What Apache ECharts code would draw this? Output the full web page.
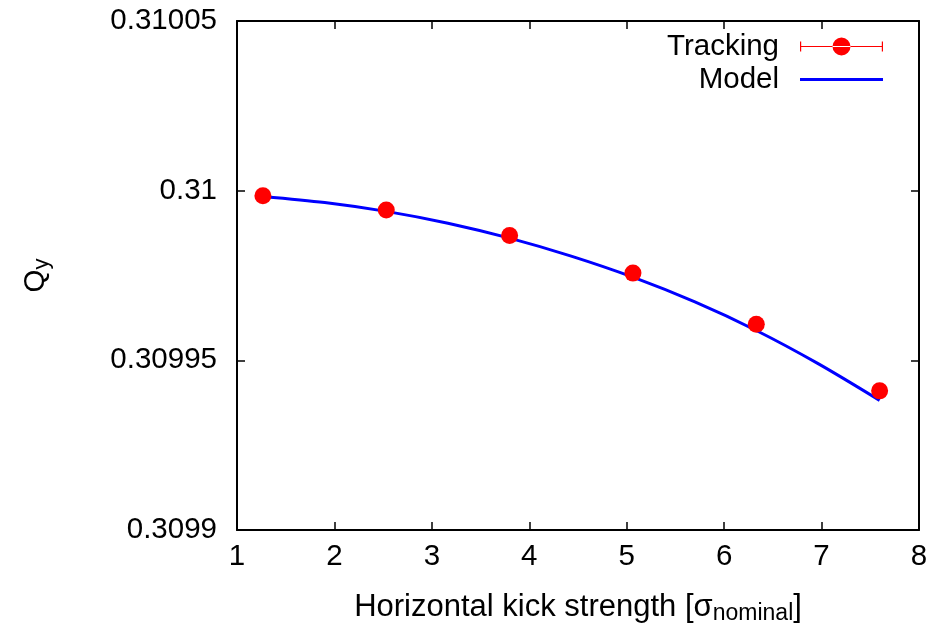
<!DOCTYPE html>
<html>
<head>
<meta charset="utf-8">
<script src="https://cdn.jsdelivr.net/npm/echarts@6/dist/echarts.min.js"></script>
<style>
  html, body { margin: 0; padding: 0; background: #fff; }
  #chart { width: 944px; height: 624px; }
</style>
</head>
<body>
<div id="chart"></div>
<script>
// Tune-shift data: tracking results and the analytic model
const kickStrength = [1.266, 2.532, 3.798, 5.064, 6.330, 7.596];
const trackingQy   = [0.3099985, 0.3099943, 0.3099868, 0.3099757, 0.3099606, 0.3099410];

const modelKick = [1.266, 1.900, 2.532, 3.165, 3.798, 4.430, 5.064, 5.700, 6.330, 6.960, 7.596];
const modelQy   = [0.3099983, 0.3099965, 0.3099939, 0.3099904, 0.3099860, 0.3099807,
                   0.3099745, 0.3099672, 0.3099588, 0.3099491, 0.3099382];

const xTicks = [1, 2, 3, 4, 5, 6, 7, 8];
const yTicks = [0.3099, 0.30995, 0.31, 0.31005];
const yTickLabels = ['0.3099', '0.30995', '0.31', '0.31005'];

const FONT = '"Liberation Sans", Arial, Helvetica, sans-serif';
const tickFont = { fontFamily: FONT, fontSize: 29.5, color: '#000' };

const chart = echarts.init(document.getElementById('chart'), null, { renderer: 'canvas' });

const frameLine = { show: true, onZero: false, lineStyle: { color: '#000', width: 2 } };
const inTick = { show: true, inside: true, length: 8, lineStyle: { color: '#000', width: 1.5 } };

// legend glyphs; tiny corner stubs keep the 83x20 box
const trackingIcon = 'path://M0,0h0.01v0.01z M83,20h-0.01v-0.01z ' +
  'M0,5h1.2v10h-1.2z M81.8,5h1.2v10h-1.2z M0,9.5h83v1h-83z ' +
  'M32.5,10a9,9 0 1,0 18,0a9,9 0 1,0 -18,0z';
const modelIcon = 'path://M0,0h0.01v0.01z M83,20h-0.01v-0.01z M0,8.5h83v3h-83z';

chart.setOption({
  animation: false,
  backgroundColor: '#fff',
  textStyle: { fontFamily: FONT },
  grid: { left: 237, right: 25, top: 21, bottom: 94, containLabel: false, outerBoundsMode: 'none' },
  legend: {
    orient: 'vertical',
    right: 56,
    top: 25,
    align: 'right',
    itemWidth: 83,
    itemHeight: 20,
    itemGap: 0,
    textStyle: { fontFamily: FONT, fontSize: 29.5, color: '#000', lineHeight: 33, padding: [0, 16, 0, 0] },
    data: [
      { name: 'Tracking', icon: trackingIcon },
      { name: 'Model', icon: modelIcon }
    ]
  },
  xAxis: [
    {
      type: 'value', min: 1, max: 8, interval: 1, position: 'bottom',
      axisLine: frameLine, axisTick: inTick, splitLine: { show: false },
      axisLabel: Object.assign({ margin: 12, customValues: xTicks }, tickFont),
      name: '{t|Horizontal kick strength [σ}{s|nominal}{t|]}',
      nameLocation: 'middle',
      nameGap: 59,
      nameTextStyle: {
        rich: {
          t: { fontFamily: FONT, fontSize: 31, color: '#000' },
          s: { fontFamily: FONT, fontSize: 23, color: '#000', verticalAlign: 'bottom', padding: [13, 0, 0, 0] }
        }
      }
    },
    {
      type: 'value', min: 1, max: 8, interval: 1, position: 'top',
      axisLine: frameLine, axisTick: inTick, axisLabel: { show: false }, splitLine: { show: false }
    }
  ],
  yAxis: [
    {
      type: 'value', min: 0.3099, max: 0.31005, position: 'left',
      axisLine: frameLine,
      axisTick: Object.assign({ customValues: yTicks }, inTick),
      splitLine: { show: false },
      axisLabel: Object.assign({
        margin: 20,
        customValues: yTicks,
        formatter: function (v) {
          const i = yTicks.findIndex(t => Math.abs(t - v) < 1e-9);
          return i >= 0 ? yTickLabels[i] : '';
        }
      }, tickFont),
      name: '{t|Q}{s|y}',
      nameLocation: 'middle',
      nameRotate: 90,
      nameGap: 184,
      nameTextStyle: {
        rich: {
          t: { fontFamily: FONT, fontSize: 29.5, color: '#000' },
          s: { fontFamily: FONT, fontSize: 22, color: '#000', padding: [13, 0, 0, 0] }
        }
      }
    },
    {
      type: 'value', min: 0.3099, max: 0.31005, position: 'right',
      axisLine: frameLine,
      axisTick: Object.assign({ customValues: yTicks }, inTick),
      axisLabel: { show: false }, splitLine: { show: false }
    }
  ],
  series: [
    {
      name: 'Model',
      type: 'line',
      xAxisIndex: 0, yAxisIndex: 0,
      data: modelKick.map((x, i) => [x, modelQy[i]]),
      smooth: 0.3,
      showSymbol: false,
      symbol: 'none',
      color: '#0000ff',
      lineStyle: { color: '#0000ff', width: 3 },
      z: 2
    },
    {
      name: 'Tracking',
      type: 'scatter',
      xAxisIndex: 0, yAxisIndex: 0,
      data: kickStrength.map((x, i) => [x, trackingQy[i]]),
      symbol: 'circle',
      symbolSize: 17,
      color: '#ff0000',
      itemStyle: { color: '#ff0000', opacity: 1 },
      z: 3
    }
  ]
});
</script>
</body>
</html>
